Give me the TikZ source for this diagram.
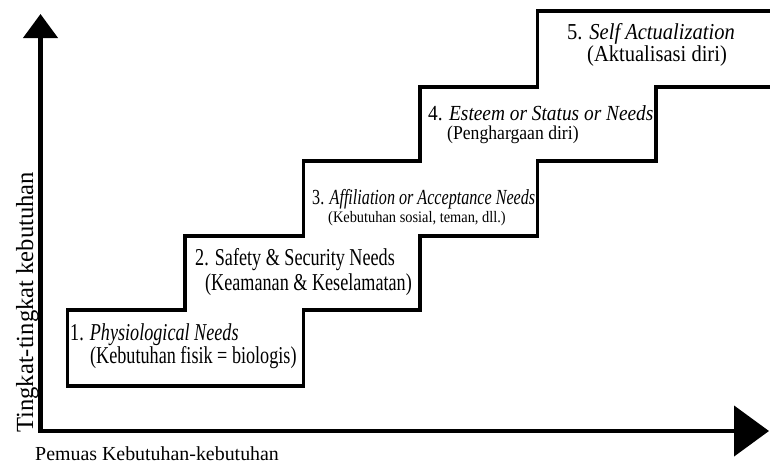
\documentclass[tikz,border=0pt]{standalone}
\usepackage{fontspec}
\setmainfont{Liberation Serif}
\newfontfamily\narrowfont{Liberation Serif}[FakeStretch=0.75]
\newfontfamily\halfnarrowfont{Liberation Serif}[FakeStretch=0.9]
\usepackage{tikz}
\usetikzlibrary{arrows.meta}
\tikzstyle{stair}=[line width=3.6pt, line join=miter]
\tikzstyle{axis}=[line width=4.5pt, line join=miter]
\tikzstyle{txt}=[anchor=base west, inner sep=0pt]
\newcommand{\lowstep}{\narrowfont\fontsize{24.2}{24}\selectfont}
\newcommand{\midstep}{\narrowfont\fontsize{21.5}{22}\selectfont}
\newcommand{\midnote}{\halfnarrowfont\fontsize{16}{17}\selectfont}
\newcommand{\highstep}{\halfnarrowfont\fontsize{21.5}{22}\selectfont}
\newcommand{\highnote}{\halfnarrowfont\fontsize{19.6}{20}\selectfont}
\newcommand{\topstep}{\halfnarrowfont\fontsize{22.8}{23}\selectfont}

\begin{document}
\begin{tikzpicture}[x=1pt,y=-1pt]
  \useasboundingbox (0,0) rectangle (770,464);

  \draw[stair] (775,11) -- (537.5,11) -- (537.5,87) -- (420,87) -- (420,161)
    -- (303.5,161) -- (303.5,236) -- (185,236) -- (185,310) -- (67.5,310)
    -- (67.5,386) -- (303.5,386) -- (303.5,310) -- (420,310) -- (420,236)
    -- (537.5,236) -- (537.5,161) -- (656,161) -- (656,87) -- (775,87);

  \coordinate (origin) at (40.5,431);
  \coordinate (ytip)   at (40.5,14);
  \coordinate (xtip)   at (769,431);
  \draw[axis,{Triangle[length=24pt,width=34pt]}-{Triangle[length=35pt,width=50pt]}]
    (ytip) -- (origin) -- (xtip);

  \node[txt,rotate=90] (ylab) at (33,433) {\fontsize{24.6}{25}\selectfont Tingkat-tingkat kebutuhan};
  \node[txt]           (xlab) at (35,460) {\fontsize{19.9}{20}\selectfont Pemuas Kebutuhan-kebutuhan};

  \node[txt] (step1)  at (70,340)  {\lowstep 1. \textit{Physiological Needs}};
  \node[txt] (note1)  at (90,363)  {\lowstep (Kebutuhan fisik = biologis)};
  \node[txt] (step2)  at (195,265) {\lowstep 2. Safety \& Security Needs};
  \node[txt] (note2)  at (205,290) {\lowstep (Keamanan \& Keselamatan)};
  \node[txt] (step3)  at (312,204) {\midstep 3. \textit{Affiliation or Acceptance Needs}};
  \node[txt] (note3)  at (328,222) {\midnote (Kebutuhan sosial, teman, dll.)};
  \node[txt] (step4)  at (428,120) {\highstep 4. \textit{Esteem or Status or Needs}};
  \node[txt] (note4)  at (447,139) {\highnote (Penghargaan diri)};
  \node[txt] (step5)  at (567,39)  {\topstep 5. \textit{Self Actualization}};
  \node[txt] (note5)  at (587,61)  {\topstep (Aktualisasi diri)};
\end{tikzpicture}
\end{document}
